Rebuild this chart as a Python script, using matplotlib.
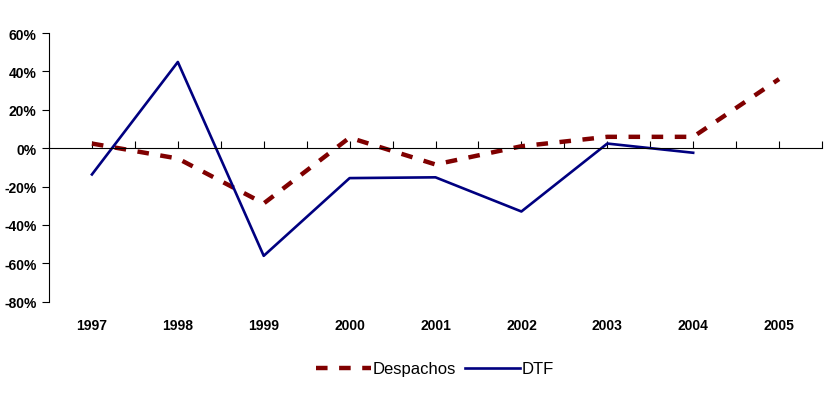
import matplotlib
matplotlib.use("Agg")
import matplotlib.pyplot as plt
import numpy as np
from matplotlib.ticker import FuncFormatter

plt.rcParams['font.family'] = ['Liberation Sans', 'DejaVu Sans']

years = ['1997', '1998', '1999', '2000', '2001', '2002', '2003', '2004', '2005']
despachos = [2.4, -5.4, -28.8, 5.5, -8.5, 1.0, 5.9, 5.9, 36.0]
dtf = [-13.7, 44.9, -56.1, -15.6, -15.2, -33.0, 2.4, -2.4]

fig = plt.figure(figsize=(8.24, 4.02), dpi=100)
ax = fig.add_axes([49/824, 1 - 302.7/402, (822-49)/824, (302.7-34)/402])

x = np.arange(len(years))
ax.plot(x, despachos, color='#800000', lw=3.2, ls=(0, (2.6, 2.6)), label='Despachos',
        solid_capstyle='butt', dash_capstyle='butt')
ax.plot(x[:len(dtf)], dtf, color='#000080', lw=1.9, label='DTF')

ax.set_xlim(-0.5, 8.5)
ax.set_ylim(-80, 60)
ax.set_yticks(np.arange(-80, 61, 20))
ax.yaxis.set_major_formatter(FuncFormatter(lambda v, p: f'{int(v)}%'))
for lbl in ax.get_yticklabels():
    lbl.set_fontweight('bold')
ax.tick_params(axis='y', direction='out', length=5, width=0.8, labelsize=10, pad=4)

ax.spines['top'].set_visible(False)
ax.spines['right'].set_visible(False)
ax.spines['bottom'].set_position(('data', 0))
ax.spines['left'].set_linewidth(0.8)
ax.spines['bottom'].set_linewidth(0.8)
ax.set_xticks(np.arange(-0.5, 8.51, 0.5))
ax.tick_params(axis='x', direction='in', length=5, width=0.8, labelbottom=False)

for i, yr in enumerate(years):
    ax.text(i, -0.085, yr, transform=ax.get_xaxis_transform(), ha='center', va='center',
            fontsize=10, fontweight='bold')

leg = fig.legend(loc='center', bbox_to_anchor=(0.528, 1 - 370/402), ncol=2, frameon=False,
                 fontsize=12, handlelength=3.3, handletextpad=0.1, columnspacing=0.5)

fig.savefig('out.png', dpi=100)
